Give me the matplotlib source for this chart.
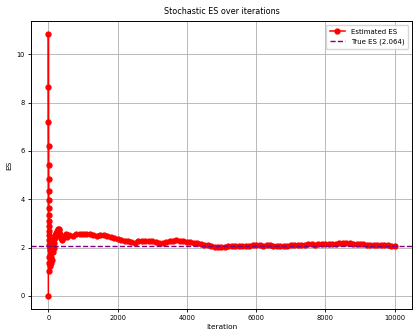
import numpy as np
import matplotlib
matplotlib.use("Agg")
import matplotlib.pyplot as plt

# Estimated ES at irregular iteration steps
iterations = [0, 1, 2, 3, 4, 5, 6, 7, 8, 9, 10, 11, 12, 13, 14, 15, 17, 20,
              25, 30, 35, 40, 45, 50, 55, 60, 65, 70, 75, 80, 90, 100, 110,
              120, 130, 140, 150, 160, 170, 180, 200, 220, 240, 260, 280,
              300, 320, 340, 360, 380, 400, 450, 500, 550]
estimates = [0.0, 10.84, 8.66, 7.21, 6.19, 5.43, 4.83, 4.34, 3.97, 3.62, 3.36,
             3.11, 2.88, 2.7, 2.5, 2.3, 2.1, 1.02,
             1.35, 1.6, 1.25, 1.9, 1.4, 1.7, 1.3, 2.0, 1.5, 1.8, 1.35, 2.1,
             1.6, 1.9, 1.5, 2.2, 1.8, 2.3, 2.0, 2.4, 2.2, 2.5, 2.4, 2.6, 2.5,
             2.7, 2.75, 2.78, 2.72, 2.55, 2.4, 2.3, 2.35, 2.45, 2.55, 2.45]

late_iterations = list(range(600, 10001, 100))
late_estimates = [
    2.52, 2.48, 2.55, 2.58, 2.56, 2.58, 2.55, 2.52, 2.46, 2.50,
    2.51, 2.48, 2.44, 2.40, 2.37, 2.33, 2.28, 2.26, 2.24, 2.20,
    2.25, 2.27, 2.25, 2.26, 2.25, 2.22, 2.19, 2.20, 2.22, 2.26,
    2.28, 2.30, 2.29, 2.25, 2.22, 2.21, 2.19, 2.17, 2.15, 2.12,
    2.10, 2.07, 2.04, 2.02, 2.02, 2.04, 2.06, 2.05, 2.06, 2.07,
    2.06, 2.07, 2.08, 2.10, 2.11, 2.10, 2.08, 2.09, 2.10, 2.08,
    2.06, 2.05, 2.05, 2.08, 2.10, 2.11, 2.12, 2.11, 2.12, 2.14,
    2.13, 2.12, 2.13, 2.13, 2.14, 2.14, 2.15, 2.16, 2.17, 2.17,
    2.18, 2.17, 2.16, 2.15, 2.14, 2.13, 2.12, 2.11, 2.11, 2.10,
    2.10, 2.09, 2.09, 2.08, 2.08,
]

true_es = 2.064

x = np.array(iterations + late_iterations)
y = np.array(estimates + late_estimates)

fig = plt.figure(figsize=(4.14, 3.35), dpi=100)
ax = fig.add_axes([0.075, 0.078, 0.92, 0.859])

ax.plot(x, y, color="red", marker="o", markersize=3.5, linewidth=1.1,
        label="Estimated ES")
ax.axhline(true_es, color="purple", linestyle="--", linewidth=1.0,
           label=f"True ES ({true_es})")

ax.set_title("Stochastic ES over iterations", fontsize=5.8, pad=5)
ax.set_xlabel("Iteration", fontsize=5.3, labelpad=2)
ax.set_ylabel("ES", fontsize=5.3, labelpad=3)
ax.tick_params(labelsize=4.8, length=2.5, width=0.6, pad=2)
ax.grid(True, color="#b0b0b0", linewidth=0.6)
for s in ax.spines.values():
    s.set_linewidth(0.7)
ax.legend(loc="upper right", fontsize=5, framealpha=0.8, borderpad=0.6,
          handlelength=2.2)

fig.savefig("out.png", dpi=100)
